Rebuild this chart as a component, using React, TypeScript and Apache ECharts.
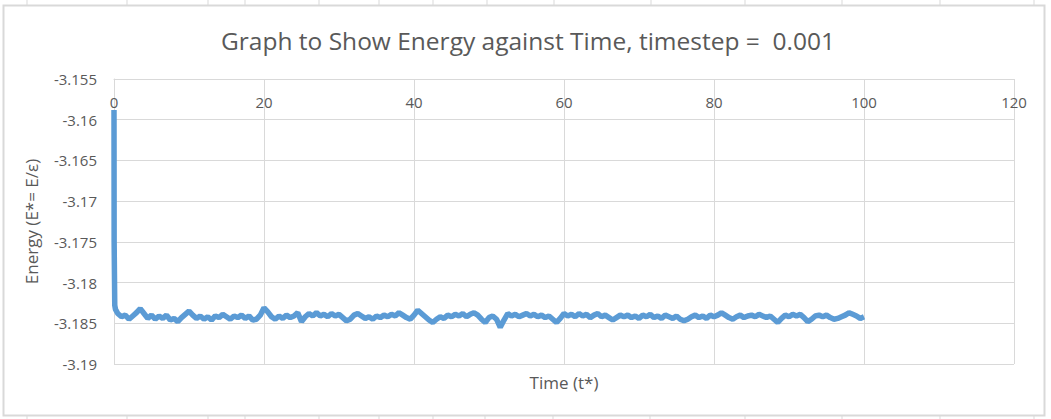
import React, { useEffect, useRef } from "react";
import * as echarts from "echarts";

const TITLE = "Graph to Show Energy against Time, timestep =  0.001";
const X_NAME = "Time (t*)";
const Y_NAME = "Energy (E*= E/\u03b5)";

// initial relaxation spike
const spikeTimes = [0, 0.02, 0.05, 0.1, 0.2];
const spikeEnergy = [-3.1588, -3.175, -3.178, -3.1828, -3.1833];

// sampled every 0.5 time units from t = 0.5 to t = 100
const sampleStep = 0.5;
const energy = [
  -3.1838, -3.1842, -3.184, -3.1845, -3.1841, -3.1837, -3.1832, -3.1838, -3.1844, -3.184,
  -3.1845, -3.1841, -3.1844, -3.184, -3.1846, -3.1844, -3.1848, -3.1843, -3.1839, -3.1835,
  -3.184, -3.1844, -3.1841, -3.1845, -3.1842, -3.1846, -3.1841, -3.1843, -3.1839, -3.1842,
  -3.1845, -3.1841, -3.1843, -3.184, -3.1844, -3.1841, -3.1846, -3.1845, -3.184, -3.1831,
  -3.1836, -3.1842, -3.1845, -3.1841, -3.1844, -3.184, -3.1843, -3.1841, -3.1837, -3.1848,
  -3.1842, -3.1838, -3.1841, -3.1837, -3.1841, -3.1839, -3.1842, -3.1838, -3.1841, -3.1839,
  -3.1843, -3.1847, -3.1845, -3.184, -3.1838, -3.1841, -3.1844, -3.1842, -3.1845, -3.1841,
  -3.1843, -3.184, -3.1842, -3.1839, -3.1841, -3.1837, -3.184, -3.1843, -3.1845, -3.184,
  -3.1834, -3.1838, -3.1842, -3.1846, -3.1849, -3.1845, -3.1842, -3.1844, -3.184, -3.1842,
  -3.1839, -3.1841, -3.1838, -3.1842, -3.1839, -3.1837, -3.184, -3.1845, -3.1849, -3.1843,
  -3.1841, -3.1845, -3.1855, -3.1846, -3.1838, -3.1841, -3.1839, -3.1842, -3.184, -3.1838,
  -3.1841, -3.1839, -3.1842, -3.184, -3.1843, -3.1841, -3.1845, -3.1849, -3.1844, -3.1838,
  -3.1841, -3.1839, -3.1842, -3.1838, -3.1841, -3.1839, -3.1843, -3.184, -3.1838, -3.1842,
  -3.184, -3.1843, -3.1846, -3.1843, -3.184, -3.1842, -3.184, -3.1843, -3.1841, -3.1844,
  -3.184, -3.1842, -3.1839, -3.1843, -3.1841, -3.1844, -3.184, -3.1842, -3.1844, -3.1841,
  -3.1845, -3.1847, -3.1845, -3.1842, -3.184, -3.1843, -3.1841, -3.1844, -3.184, -3.1842,
  -3.184, -3.1837, -3.184, -3.1843, -3.1845, -3.1842, -3.184, -3.1843, -3.1841, -3.184,
  -3.1842, -3.1839, -3.1841, -3.1843, -3.1841, -3.1845, -3.1849, -3.1844, -3.184, -3.1842,
  -3.1839, -3.1841, -3.1839, -3.1843, -3.1848, -3.1845, -3.1841, -3.184, -3.1842, -3.184,
  -3.1843, -3.1845, -3.1844, -3.1842, -3.184, -3.1837, -3.1839, -3.1841, -3.1844, -3.1842,
];

const xTicks = { min: 0, max: 120, interval: 20 };
const yTicks = { min: -3.19, max: -3.155, interval: 0.005 };

const GRID = "#d9d9d9";
const TEXT = "#595959";
const LINE = "#5b9bd5";
const FONT = "'Open Sans', 'Noto Sans', sans-serif";

// spreadsheet column lines visible above/below the chart
const topColumns = [27, 127, 208, 245, 319, 379, 433, 487, 554, 651, 745, 842, 940, 1034];
const bottomColumns = [27, 127, 208, 245, 319, 379, 433, 485, 553, 650, 745, 842, 940, 1034];

export default function App() {
  const ref = useRef<HTMLDivElement>(null);

  useEffect(() => {
    if (!ref.current) return;
    const chart = echarts.init(ref.current, undefined, { renderer: "svg" });

    const data: [number, number][] = [];
    spikeTimes.forEach((t, i) => data.push([t, spikeEnergy[i]]));
    energy.forEach((v, i) => data.push([(i + 1) * sampleStep, v]));

    const colLines: any[] = [];
    topColumns.forEach((x) =>
      colLines.push({ type: "line", shape: { x1: x, y1: 0, x2: x, y2: 5 }, style: { stroke: GRID, lineWidth: 1 } })
    );
    bottomColumns.forEach((x) =>
      colLines.push({ type: "line", shape: { x1: x, y1: 416, x2: x, y2: 419 }, style: { stroke: GRID, lineWidth: 1 } })
    );

    chart.setOption({
      animation: false,
      backgroundColor: "#ffffff",
      title: {
        text: TITLE,
        left: 523,
        textAlign: "center",
        top: 23,
        textStyle: { color: TEXT, fontFamily: FONT, fontSize: 24.5, fontWeight: "normal" },
      },
      grid: { left: 114, right: 37, top: 79, bottom: 55, containLabel: false },
      xAxis: {
        type: "value",
        position: "top",
        min: xTicks.min,
        max: xTicks.max,
        interval: xTicks.interval,
        axisLine: { show: true, onZero: false, lineStyle: { color: GRID, width: 1 } },
        axisTick: { show: false },
        axisLabel: { inside: true, margin: 15, color: TEXT, fontFamily: FONT, fontSize: 15 },
        splitLine: { show: true, lineStyle: { color: GRID, width: 1 } },
      },
      yAxis: {
        type: "value",
        min: yTicks.min,
        max: yTicks.max,
        interval: yTicks.interval,
        name: Y_NAME,
        nameLocation: "middle",
        nameGap: 74,
        nameTextStyle: { color: TEXT, fontFamily: FONT, fontSize: 17 },
        axisLine: { show: true, onZero: false, lineStyle: { color: GRID, width: 1 } },
        axisTick: { show: false },
        axisLabel: {
          margin: 17,
          color: TEXT,
          fontFamily: FONT,
          fontSize: 15,
          formatter: (v: number) => String(Number(v.toFixed(3))),
        },
        splitLine: { show: true, lineStyle: { color: GRID, width: 1 } },
      },
      graphic: [
        {
          type: "rect",
          shape: { x: 3.5, y: 5.5, width: 1041, height: 410 },
          style: { fill: "none", stroke: GRID, lineWidth: 2 },
          z: -1,
        },
        ...colLines,
        {
          type: "text",
          x: 564,
          y: 382,
          style: {
            text: X_NAME,
            fill: TEXT,
            font: `17px ${FONT}`,
            textAlign: "center",
            textVerticalAlign: "middle",
          },
        },
      ],
      series: [
        {
          type: "line",
          data,
          showSymbol: false,
          symbol: "none",
          lineStyle: { color: LINE, width: 5.5 },
          itemStyle: { color: LINE },
        },
      ],
    });

    return () => chart.dispose();
  }, []);

  return (
    <div
      ref={ref}
      style={{ position: "fixed", left: 0, top: 0, width: 1051, height: 419 }}
    />
  );
}
